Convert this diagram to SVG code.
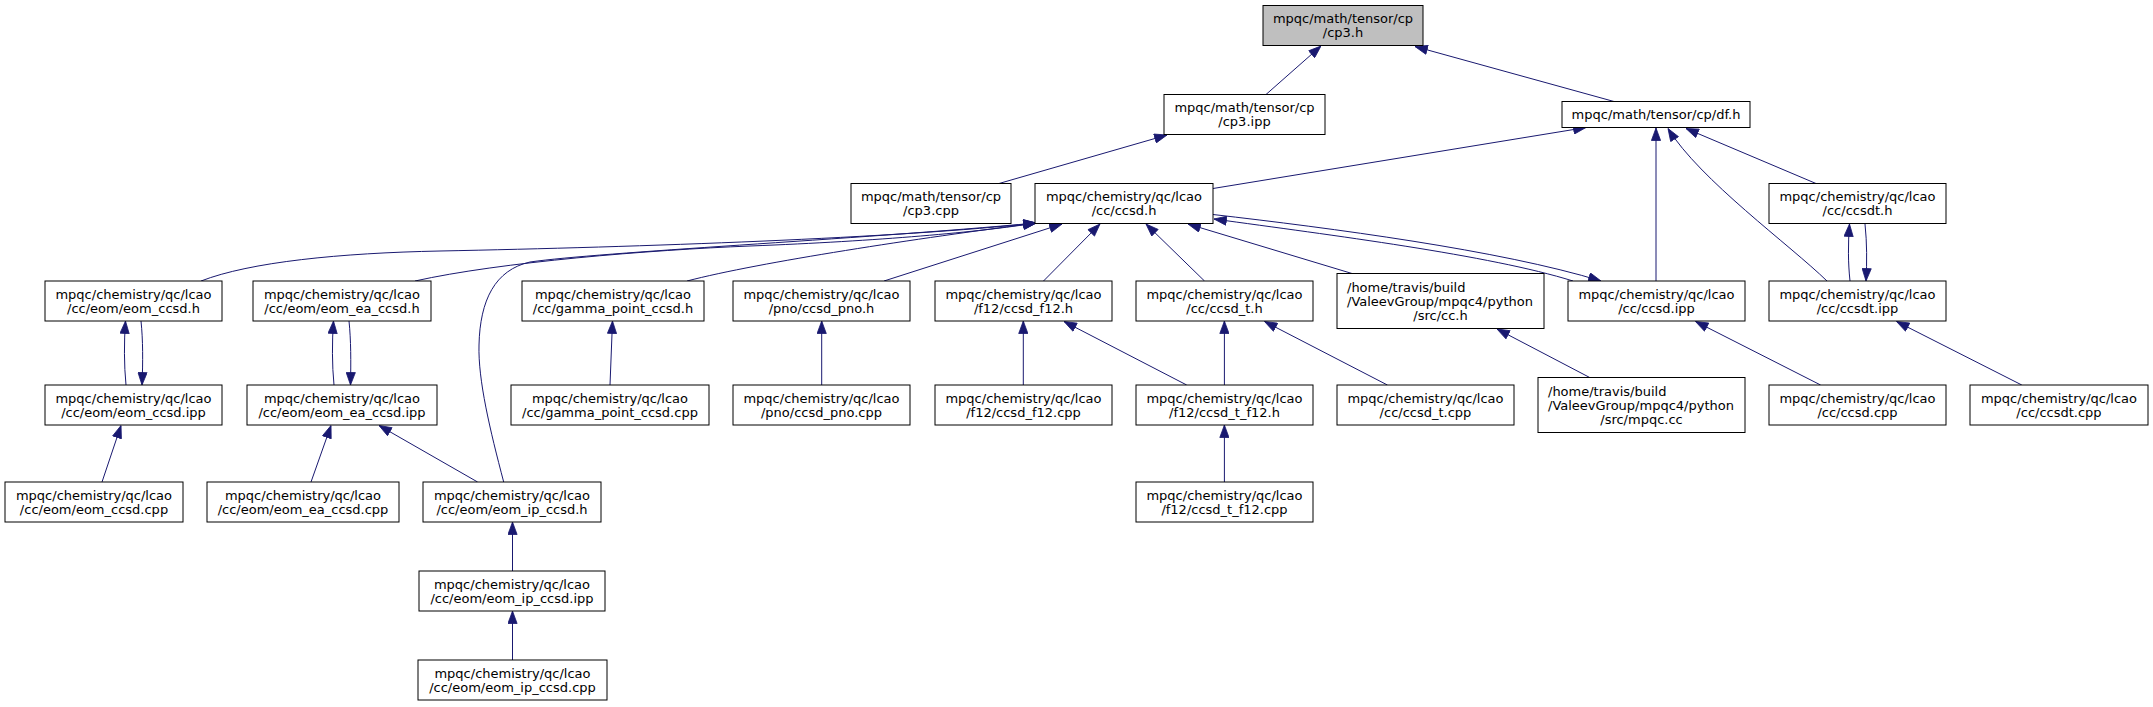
<svg xmlns="http://www.w3.org/2000/svg" width="2153" height="707" viewBox="0 0 2153 707">
<style>
.node rect{fill:#ffffff;stroke:#000000;stroke-width:1}
.root rect{fill:#bfbfbf;stroke:#000000;stroke-width:1}
text{font-family:"DejaVu Sans","Liberation Sans",sans-serif;font-size:13px;fill:#000000}
.c{text-anchor:middle}
.l{text-anchor:start}
.edges path{fill:none;stroke:#191970;stroke-width:1;marker-end:url(#arr)}
</style>
<defs>
<marker id="arr" markerUnits="userSpaceOnUse" viewBox="0 0 13 10" refX="13" refY="5" markerWidth="13" markerHeight="10" orient="auto">
<path d="M0.5,0.4 L13,5 L0.5,9.6 Z" fill="#191970" stroke="#191970" stroke-width="0.8"/>
</marker>
</defs>
<rect x="0" y="0" width="2153" height="707" fill="#ffffff"/>
<g class="edges">
<path d="M1266,94.5 L1321,46"/>
<path d="M1614,101.5 L1415,46.5"/>
<path d="M999,183.5 L1167,135"/>
<path d="M1213,188.5 L1586,127.5"/>
<path d="M1656,281 L1656,128"/>
<path d="M1827,281 C1790,245 1700,180 1668,128.5"/>
<path d="M1816,183.5 L1686,128.5"/>
<path d="M1850,281 C1848,262 1848,245 1849.5,224"/>
<path d="M1865,224 C1867,243 1867,262 1866,281"/>
<path d="M1573,281 C1490,255 1330,235 1214,219"/>
<path d="M1213,214.5 C1330,228 1500,250 1601,281"/>
<path d="M1352,273.5 L1188,224"/>
<path d="M1204.5,281 L1146,224"/>
<path d="M1043.5,281 L1100,224"/>
<path d="M884,281 L1062,224"/>
<path d="M687,281 C760,262 920,238 1036,223"/>
<path d="M201,281 C250,262 340,253 440,251 C640,247 900,238 1036,223"/>
<path d="M415,281 C500,262 650,250 750,246 C880,241 980,232 1036,223"/>
<path d="M503.7,482 C490,430 478,380 479,345 C480,300 495,270 530,262 C600,252 850,240 1036,223"/>
<path d="M126,385 C124,365 124,342 125.5,321"/>
<path d="M141,321 C143,340 143,362 142,385"/>
<path d="M334,385 C332,365 332,342 333.5,321"/>
<path d="M349,321 C351,340 351,362 350.5,385"/>
<path d="M610,385 L612.5,321"/>
<path d="M102,482 L121,425.5"/>
<path d="M311,482 L331,425.5"/>
<path d="M477.6,482 L379,425.5"/>
<path d="M512.5,571 L512.5,522"/>
<path d="M512.5,660 L512.5,611"/>
<path d="M821.7,385 L821.7,321"/>
<path d="M1023.3,385 L1023.3,321"/>
<path d="M1186.7,385 L1064,321.5"/>
<path d="M1224.4,385 L1224.4,321"/>
<path d="M1387.4,385 L1264.5,321.5"/>
<path d="M1224.4,482 L1224.4,425"/>
<path d="M1589.7,377.5 L1497,329"/>
<path d="M1820.6,385 L1695.5,321.5"/>
<path d="M2021.8,385 L1896.5,321.5"/>
</g>
<g id="cp3_h" class="root"><rect x="1263" y="5.5" width="160" height="40"/><text class="c" x="1343" y="23">mpqc/math/tensor/cp</text><text class="c" x="1343" y="37">/cp3.h</text></g>
<g id="cp3_ipp" class="node"><rect x="1164" y="94.5" width="161" height="40"/><text class="c" x="1244.5" y="112">mpqc/math/tensor/cp</text><text class="c" x="1244.5" y="126">/cp3.ipp</text></g>
<g id="df_h" class="node"><rect x="1562" y="101.5" width="188" height="26"/><text class="c" x="1656" y="119">mpqc/math/tensor/cp/df.h</text></g>
<g id="cp3_cpp" class="node"><rect x="851" y="183.5" width="160" height="40"/><text class="c" x="931" y="201">mpqc/math/tensor/cp</text><text class="c" x="931" y="215">/cp3.cpp</text></g>
<g id="ccsd_h" class="node"><rect x="1035" y="183.5" width="178" height="40"/><text class="c" x="1124" y="201">mpqc/chemistry/qc/lcao</text><text class="c" x="1124" y="215">/cc/ccsd.h</text></g>
<g id="ccsdt_h" class="node"><rect x="1769" y="183.5" width="177" height="40"/><text class="c" x="1857.5" y="201">mpqc/chemistry/qc/lcao</text><text class="c" x="1857.5" y="215">/cc/ccsdt.h</text></g>
<g id="eom_ccsd_h" class="node"><rect x="45" y="281" width="177" height="40"/><text class="c" x="133.5" y="298.5">mpqc/chemistry/qc/lcao</text><text class="c" x="133.5" y="312.5">/cc/eom/eom_ccsd.h</text></g>
<g id="eom_ea_ccsd_h" class="node"><rect x="253" y="281" width="178" height="40"/><text class="c" x="342" y="298.5">mpqc/chemistry/qc/lcao</text><text class="c" x="342" y="312.5">/cc/eom/eom_ea_ccsd.h</text></g>
<g id="gamma_point_ccsd_h" class="node"><rect x="522" y="281" width="182" height="40"/><text class="c" x="613" y="298.5">mpqc/chemistry/qc/lcao</text><text class="c" x="613" y="312.5">/cc/gamma_point_ccsd.h</text></g>
<g id="ccsd_pno_h" class="node"><rect x="733" y="281" width="177" height="40"/><text class="c" x="821.5" y="298.5">mpqc/chemistry/qc/lcao</text><text class="c" x="821.5" y="312.5">/pno/ccsd_pno.h</text></g>
<g id="ccsd_f12_h" class="node"><rect x="935" y="281" width="177" height="40"/><text class="c" x="1023.5" y="298.5">mpqc/chemistry/qc/lcao</text><text class="c" x="1023.5" y="312.5">/f12/ccsd_f12.h</text></g>
<g id="ccsd_t_h" class="node"><rect x="1136" y="281" width="177" height="40"/><text class="c" x="1224.5" y="298.5">mpqc/chemistry/qc/lcao</text><text class="c" x="1224.5" y="312.5">/cc/ccsd_t.h</text></g>
<g id="cc_h" class="node"><rect x="1337" y="273.5" width="207" height="55"/><text class="l" x="1347" y="291.5">/home/travis/build</text><text class="l" x="1347" y="305.5">/ValeevGroup/mpqc4/python</text><text class="c" x="1440.5" y="319.5">/src/cc.h</text></g>
<g id="ccsd_ipp" class="node"><rect x="1568" y="281" width="177" height="40"/><text class="c" x="1656.5" y="298.5">mpqc/chemistry/qc/lcao</text><text class="c" x="1656.5" y="312.5">/cc/ccsd.ipp</text></g>
<g id="ccsdt_ipp" class="node"><rect x="1769" y="281" width="177" height="40"/><text class="c" x="1857.5" y="298.5">mpqc/chemistry/qc/lcao</text><text class="c" x="1857.5" y="312.5">/cc/ccsdt.ipp</text></g>
<g id="eom_ccsd_ipp" class="node"><rect x="45" y="385" width="177" height="40"/><text class="c" x="133.5" y="402.5">mpqc/chemistry/qc/lcao</text><text class="c" x="133.5" y="416.5">/cc/eom/eom_ccsd.ipp</text></g>
<g id="eom_ea_ccsd_ipp" class="node"><rect x="247" y="385" width="190" height="40"/><text class="c" x="342" y="402.5">mpqc/chemistry/qc/lcao</text><text class="c" x="342" y="416.5">/cc/eom/eom_ea_ccsd.ipp</text></g>
<g id="gamma_point_ccsd_cpp" class="node"><rect x="511" y="385" width="198" height="40"/><text class="c" x="610" y="402.5">mpqc/chemistry/qc/lcao</text><text class="c" x="610" y="416.5">/cc/gamma_point_ccsd.cpp</text></g>
<g id="ccsd_pno_cpp" class="node"><rect x="733" y="385" width="177" height="40"/><text class="c" x="821.5" y="402.5">mpqc/chemistry/qc/lcao</text><text class="c" x="821.5" y="416.5">/pno/ccsd_pno.cpp</text></g>
<g id="ccsd_f12_cpp" class="node"><rect x="935" y="385" width="177" height="40"/><text class="c" x="1023.5" y="402.5">mpqc/chemistry/qc/lcao</text><text class="c" x="1023.5" y="416.5">/f12/ccsd_f12.cpp</text></g>
<g id="ccsd_t_f12_h" class="node"><rect x="1136" y="385" width="177" height="40"/><text class="c" x="1224.5" y="402.5">mpqc/chemistry/qc/lcao</text><text class="c" x="1224.5" y="416.5">/f12/ccsd_t_f12.h</text></g>
<g id="ccsd_t_cpp" class="node"><rect x="1337" y="385" width="177" height="40"/><text class="c" x="1425.5" y="402.5">mpqc/chemistry/qc/lcao</text><text class="c" x="1425.5" y="416.5">/cc/ccsd_t.cpp</text></g>
<g id="mpqc_cc" class="node"><rect x="1538" y="377.5" width="207" height="55"/><text class="l" x="1548" y="395.5">/home/travis/build</text><text class="l" x="1548" y="409.5">/ValeevGroup/mpqc4/python</text><text class="c" x="1641.5" y="423.5">/src/mpqc.cc</text></g>
<g id="ccsd_cpp" class="node"><rect x="1769" y="385" width="177" height="40"/><text class="c" x="1857.5" y="402.5">mpqc/chemistry/qc/lcao</text><text class="c" x="1857.5" y="416.5">/cc/ccsd.cpp</text></g>
<g id="ccsdt_cpp" class="node"><rect x="1970" y="385" width="178" height="40"/><text class="c" x="2059" y="402.5">mpqc/chemistry/qc/lcao</text><text class="c" x="2059" y="416.5">/cc/ccsdt.cpp</text></g>
<g id="eom_ccsd_cpp" class="node"><rect x="5" y="482" width="178" height="40"/><text class="c" x="94" y="499.5">mpqc/chemistry/qc/lcao</text><text class="c" x="94" y="513.5">/cc/eom/eom_ccsd.cpp</text></g>
<g id="eom_ea_ccsd_cpp" class="node"><rect x="207" y="482" width="192" height="40"/><text class="c" x="303" y="499.5">mpqc/chemistry/qc/lcao</text><text class="c" x="303" y="513.5">/cc/eom/eom_ea_ccsd.cpp</text></g>
<g id="eom_ip_ccsd_h" class="node"><rect x="423" y="482" width="178" height="40"/><text class="c" x="512" y="499.5">mpqc/chemistry/qc/lcao</text><text class="c" x="512" y="513.5">/cc/eom/eom_ip_ccsd.h</text></g>
<g id="ccsd_t_f12_cpp" class="node"><rect x="1136" y="482" width="177" height="40"/><text class="c" x="1224.5" y="499.5">mpqc/chemistry/qc/lcao</text><text class="c" x="1224.5" y="513.5">/f12/ccsd_t_f12.cpp</text></g>
<g id="eom_ip_ccsd_ipp" class="node"><rect x="419" y="571" width="186" height="40"/><text class="c" x="512" y="588.5">mpqc/chemistry/qc/lcao</text><text class="c" x="512" y="602.5">/cc/eom/eom_ip_ccsd.ipp</text></g>
<g id="eom_ip_ccsd_cpp" class="node"><rect x="418" y="660" width="189" height="40"/><text class="c" x="512.5" y="677.5">mpqc/chemistry/qc/lcao</text><text class="c" x="512.5" y="691.5">/cc/eom/eom_ip_ccsd.cpp</text></g>
</svg>
